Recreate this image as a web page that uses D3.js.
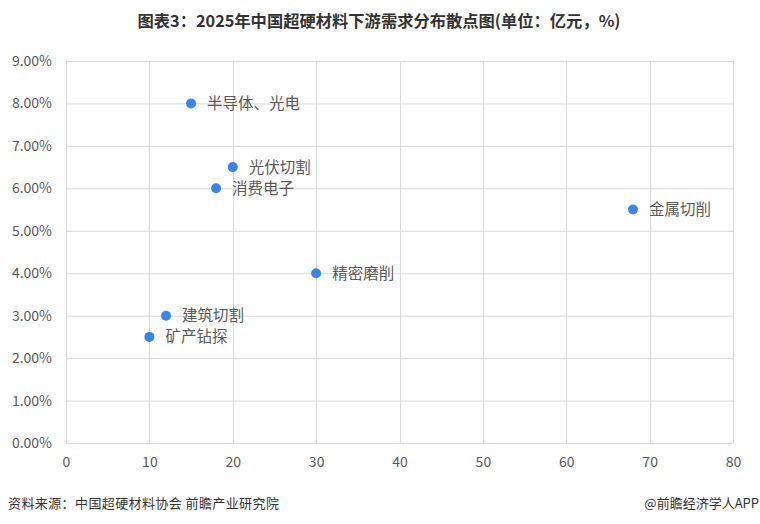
<!DOCTYPE html>
<html><head><meta charset="utf-8">
<script src="https://cdn.jsdelivr.net/npm/d3@7"></script>
<style>body{margin:0;background:#fff;}svg{display:block;}</style>
</head><body><svg id="c" width="760" height="524"></svg>
<script>
const names = ["半导体、光电","光伏切割","消费电子","金属切削","精密磨削","建筑切割","矿产钻探"];
const xValues = [15,20,18,68,30,12,10];
const yValues = [8.0,6.5,6.0,5.5,4.0,3.0,2.5];
const xTicks = [0,10,20,30,40,50,60,70,80];
const yTicks = [0,1,2,3,4,5,6,7,8,9];
const title = "图表3：2025年中国超硬材料下游需求分布散点图(单位：亿元，%)";
const source = "资料来源：中国超硬材料协会 前瞻产业研究院";
const brand = "@前瞻经济学人APP";

const svg = d3.select("#c");
const font = "'Microsoft YaHei','Noto Sans CJK SC',sans-serif";
const m = {l:66, r:733, t:61, b:443};
const x = d3.scaleLinear().domain([0,80]).range([m.l,m.r]);
const y = d3.scaleLinear().domain([0,9]).range([m.b,m.t]);

svg.append("text").attr("x",379).attr("y",27).attr("text-anchor","middle")
  .attr("font-family",font).attr("font-size",16.3).attr("font-weight","bold").attr("fill","#333").text(title);

// grid
svg.append("g").selectAll("line").data(yTicks).join("line")
  .attr("x1",m.l).attr("x2",m.r).attr("y1",d=>y(d)+0.5).attr("y2",d=>y(d)+0.5)
  .attr("stroke","#d9d9d9").attr("stroke-width",1);
svg.append("g").selectAll("line").data(xTicks).join("line")
  .attr("y1",m.t).attr("y2",m.b).attr("x1",d=>Math.round(x(d))+0.5).attr("x2",d=>Math.round(x(d))+0.5)
  .attr("stroke","#d9d9d9").attr("stroke-width",1);

// y labels
const yAxis = d3.axisLeft(y).tickValues(yTicks).tickFormat(d=>d.toFixed(2)+"%").tickSize(0).tickPadding(14);
const gy = svg.append("g").attr("transform",`translate(${m.l},0)`).call(yAxis);
gy.select(".domain").remove();
gy.selectAll("text").attr("font-family",font).attr("font-size",14).attr("fill","#595959");

const xAxis = d3.axisBottom(x).tickValues(xTicks).tickFormat(d3.format("d")).tickSize(0).tickPadding(14);
const gx = svg.append("g").attr("transform",`translate(0,${m.b})`).call(xAxis);
gx.select(".domain").remove();
gx.selectAll("text").attr("font-family",font).attr("font-size",14).attr("fill","#595959");

const data = names.map((n,i)=>({n, x:xValues[i], y:yValues[i]}));
svg.append("g").selectAll("circle").data(data).join("circle")
  .attr("cx",d=>x(d.x)).attr("cy",d=>y(d.y)).attr("r",5).attr("fill","#3a86e8");
svg.append("g").selectAll("text").data(data).join("text")
  .attr("x",d=>x(d.x)+16).attr("y",d=>y(d.y)+5.5)
  .attr("font-family",font).attr("font-size",15.5).attr("fill","#595959").text(d=>d.n);

svg.append("text").attr("x",8).attr("y",508).attr("font-family",font).attr("font-size",13)
  .attr("fill","#333").attr("letter-spacing",0.4).text(source);
svg.append("text").attr("x",759).attr("y",508).attr("text-anchor","end").attr("font-family",font).attr("font-size",13)
  .attr("fill","#333").text(brand);
</script></body></html>
